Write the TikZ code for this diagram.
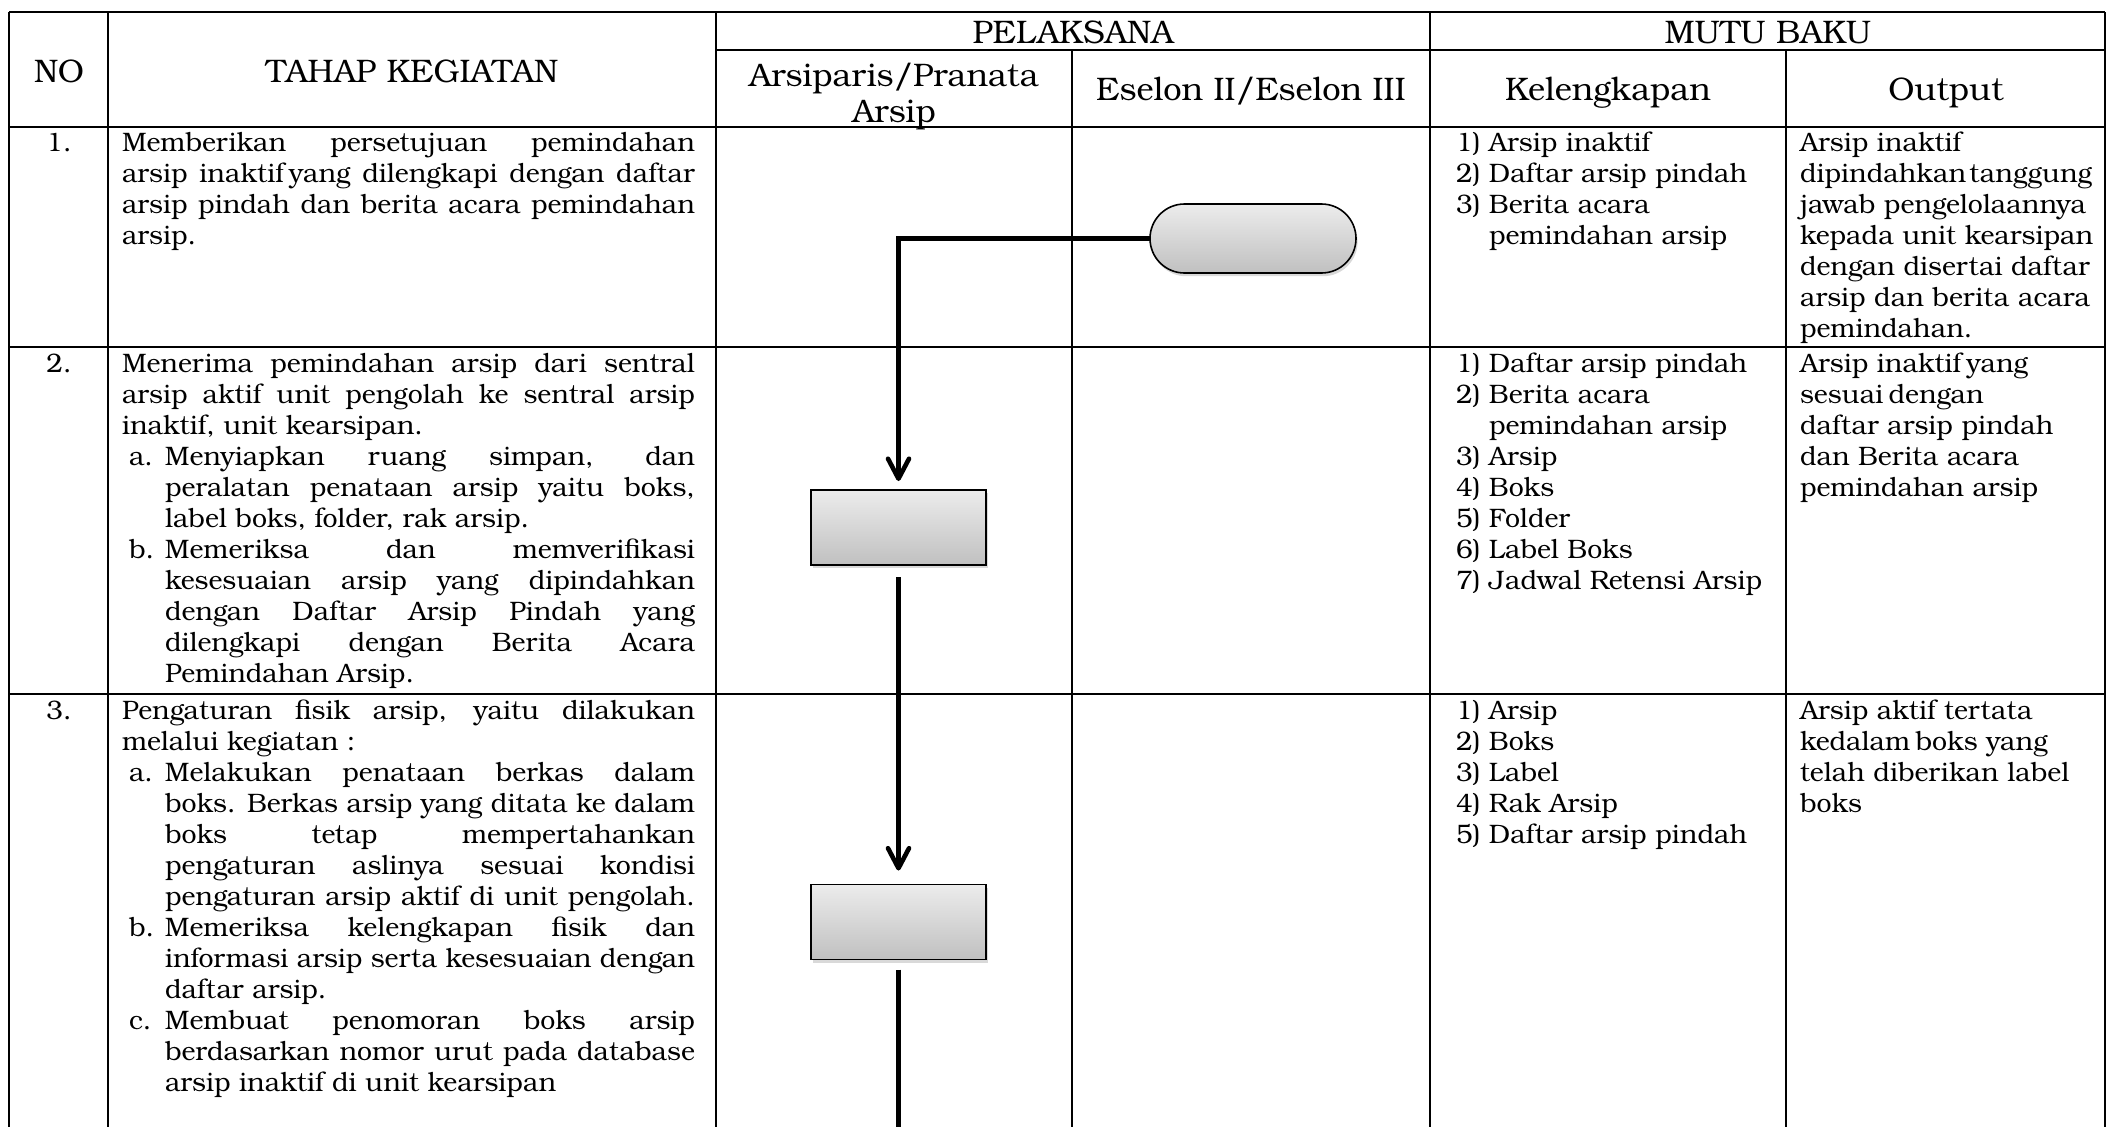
\documentclass[tikz,border=0pt]{standalone}
\usepackage{fontspec}
\setmainfont{texgyrebonum}[Extension=.otf,UprightFont=*-regular,BoldFont=*-bold,ItalicFont=*-italic,BoldItalicFont=*-bolditalic]
\usetikzlibrary{arrows.meta,shadows}
\definecolor{gtop}{RGB}{236,236,236}
\definecolor{gbot}{RGB}{192,192,192}
\newcommand{\J}[1]{\makebox[286.5pt][s]{#1}\\}
\newcommand{\SJ}[2]{\hspace*{3.5pt}\makebox[18pt][l]{#1}\makebox[265pt][s]{#2}\\}
\newcommand{\SC}[1]{\hspace*{21.5pt}\makebox[265pt][s]{#1}\\}
\newcommand{\SL}[1]{\hspace*{21.5pt}#1}
\newcommand{\KL}[2]{\makebox[16.5pt][l]{#1}#2}
\newcommand{\KC}[1]{\hspace*{16.5pt}#1}
\newcommand{\ts}{\hspace{0.2em}}
\tikzset{
  tline/.style={line width=0.65pt},
  txt/.style={inner sep=0pt, outer sep=0pt, font=\fontsize{13.35pt}{15.5pt}\selectfont},
  htxt/.style={inner sep=0pt, outer sep=0pt, font=\fontsize{16.3pt}{18pt}\selectfont},
  procbox/.style={rectangle, draw=black, line width=0.8pt, minimum width=87.5pt, minimum height=37.5pt,
     top color=gtop, bottom color=gbot, inner sep=0pt, outer sep=0pt,
     drop shadow={shadow xshift=0.8pt, shadow yshift=-1.6pt, opacity=0.3}},
  termbox/.style={procbox, rounded corners=17.25pt, minimum width=103pt, minimum height=34.5pt},
  flow/.style={line width=2.3pt, -{Straight Barb[round,length=10pt,width=10.5pt]}},
  flowline/.style={line width=2.3pt},
}
\begin{document}
\begin{tikzpicture}[x=0.5pt,y=-0.5pt]
\useasboundingbox (0,0) rectangle (2109,1126);
% ---------- table grid ----------
\draw[tline] (9,12) -- (2105,12);
\draw[tline] (716,50) -- (2105,50);
\draw[tline] (9,127) -- (2105,127);
\draw[tline] (9,347) -- (2105,347);
\draw[tline] (9,694) -- (2105,694);
\foreach \x in {9,108,716,1430,2105} \draw[tline] (\x,12) -- (\x,1130);
\foreach \x in {1072,1786} \draw[tline] (\x,50) -- (\x,1130);
% ---------- header ----------
\node[htxt, anchor=base] (hNO) at (59,82) {NO};
\node[htxt, anchor=base] (hTahap) at (412,82) {TAHAP KEGIATAN};
\node[htxt, anchor=base] (hPel) at (1073,43) {PELAKSANA};
\node[htxt, anchor=base] (hMutu) at (1768,43) {MUTU BAKU};
\node[htxt, anchor=base] (hArsA) at (894,86) {Arsiparis/Pranata};
\node[htxt, anchor=base] (hArsB) at (894,122) {Arsip};
\node[htxt, anchor=base] (hEse) at (1251,100) {Eselon II/Eselon III};
\node[htxt, anchor=base] (hKel) at (1608,100) {Kelengkapan};
\node[htxt, anchor=base] (hOut) at (1946,100) {Output};
% ---------- numbers ----------
\node[txt, anchor=base] (n1) at (59,151) {1.};
\node[txt, anchor=base] (n2) at (59,372) {2.};
\node[txt, anchor=base] (n3) at (59,719) {3.};
% ---------- tahap kegiatan ----------
\node[txt, anchor=base west] (t1txt) at (122,151) {\parbox[t]{286.5pt}{\raggedright
\J{Memberikan persetujuan pemindahan}
\J{arsip inaktif\ts yang dilengkapi dengan daftar}
\J{arsip pindah dan berita acara pemindahan}
arsip.}};
\node[txt, anchor=base west] (t2txt) at (122,372) {\parbox[t]{286.5pt}{\raggedright
\J{Menerima pemindahan arsip dari sentral}
\J{arsip aktif unit pengolah ke sentral arsip}
inaktif, unit kearsipan.\\
\SJ{a.}{Menyiapkan ruang simpan, dan}
\SC{peralatan penataan arsip yaitu boks,}
\SL{label boks, folder, rak arsip.}\\
\SJ{b.}{Memeriksa dan memverifikasi}
\SC{kesesuaian arsip yang dipindahkan}
\SC{dengan Daftar Arsip Pindah yang}
\SC{dilengkapi dengan Berita Acara}
\SL{Pemindahan Arsip.}}};
\node[txt, anchor=base west] (t3txt) at (122,719) {\parbox[t]{286.5pt}{\raggedright
\J{Pengaturan fisik arsip, yaitu dilakukan}
melalui kegiatan :\\
\SJ{a.}{Melakukan penataan berkas dalam}
\SC{boks. Berkas arsip yang ditata ke dalam}
\SC{boks tetap mempertahankan}
\SC{pengaturan aslinya sesuai kondisi}
\SC{pengaturan arsip aktif di unit pengolah.}
\SJ{b.}{Memeriksa kelengkapan fisik dan}
\SC{informasi arsip serta kesesuaian dengan}
\SL{daftar arsip.}\\
\SJ{c.}{Membuat penomoran boks arsip}
\SC{berdasarkan nomor urut pada database}
\SL{arsip inaktif di unit kearsipan}}};
% ---------- kelengkapan ----------
\node[txt, anchor=base west] (k1txt) at (1456,151) {\parbox[t]{160pt}{\raggedright
\KL{1)}{Arsip inaktif}\\
\KL{2)}{Daftar arsip pindah}\\
\KL{3)}{Berita acara}\\
\KC{pemindahan arsip}}};
\node[txt, anchor=base west] (k2txt) at (1456,372) {\parbox[t]{160pt}{\raggedright
\KL{1)}{Daftar arsip pindah}\\
\KL{2)}{Berita acara}\\
\KC{pemindahan arsip}\\
\KL{3)}{Arsip}\\
\KL{4)}{Boks}\\
\KL{5)}{Folder}\\
\KL{6)}{Label Boks}\\
\KL{7)}{Jadwal Retensi Arsip}}};
\node[txt, anchor=base west] (k3txt) at (1456,719) {\parbox[t]{160pt}{\raggedright
\KL{1)}{Arsip}\\
\KL{2)}{Boks}\\
\KL{3)}{Label}\\
\KL{4)}{Rak Arsip}\\
\KL{5)}{Daftar arsip pindah}}};
% ---------- output ----------
\node[txt, anchor=base west] (o1txt) at (1800,151) {\parbox[t]{150pt}{\raggedright
Arsip inaktif\\
dipindahkan\hspace{0.12em}tanggung\\
jawab pengelolaannya\\
kepada unit kearsipan\\
dengan disertai daftar\\
arsip dan berita acara\\
pemindahan.}};
\node[txt, anchor=base west] (o2txt) at (1800,372) {\parbox[t]{150pt}{\raggedright
Arsip inaktif\ts yang\\
sesuai\ts dengan\\
daftar arsip pindah\\
dan Berita acara\\
pemindahan arsip}};
\node[txt, anchor=base west] (o3txt) at (1800,719) {\parbox[t]{150pt}{\raggedright
Arsip aktif tertata\\
kedalam\ts boks yang\\
telah diberikan label\\
boks}};
% ---------- flow ----------
\node[termbox] (term) at (1253,238.5) {};
\node[procbox] (box1) at (898.5,527.5) {};
\node[procbox] (box2) at (898.5,922) {};
\coordinate (bottomend) at (898.5,1135);
\draw[flow, shorten >=4.5pt] (term.west) -| (box1.north);
\draw[flow, shorten <=6pt, shorten >=7pt] (box1.south) -- (box2.north);
\draw[flowline, shorten <=5pt] (box2.south) -- (bottomend);
\end{tikzpicture}
\end{document}
